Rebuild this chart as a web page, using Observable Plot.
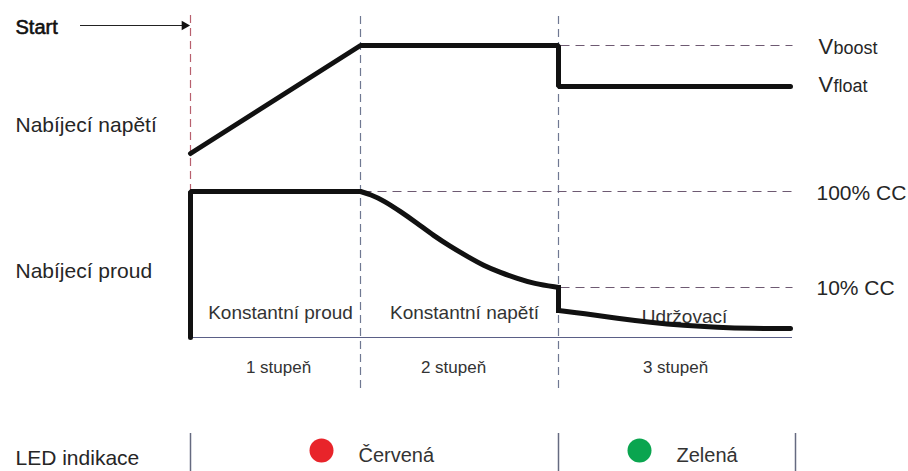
<!DOCTYPE html>
<html>
<head>
<meta charset="utf-8">
<script src="https://cdn.jsdelivr.net/npm/d3@7"></script>
<script src="https://cdn.jsdelivr.net/npm/@observablehq/plot@0.6"></script>
<style>
  html, body { margin: 0; padding: 0; background: #fff; }
  #chart svg { display: block; }
</style>
</head>
<body>
<div id="chart"></div>
<script>
// ---- Diagram data (diagram units: x = time axis, y = downward position) ----
const stageBounds = [190, 360, 558, 790];      // start, end stage 1, end stage 2, end
const dividerTop = 16, dividerBottom = 388, axisY = 337;

// charging voltage
const voltX = [190, 360, 558, 558, 790];
const voltY = [153, 45, 45, 86, 86];

// charging current: constant current part
const ccX = [190, 190, 360];
const ccY = [337, 191, 191];
// constant voltage part (falling current)
const cvX = [360, 370, 383, 400, 417, 433, 450, 467, 483, 500, 517, 533, 558];
const cvY = [191, 194, 200, 211, 223, 235, 246, 256, 265, 272, 278, 283, 287];
// drop at switch to float
const dropX = [558, 558];
const dropY = [287, 310];
// float part
const flX = [558, 583, 617, 650, 683, 717, 750, 790];
const flY = [310, 313, 318, 322, 325, 327, 328, 328];

// reference levels (dashed)
const levelNames = ["Vboost", "100% CC", "10% CC"];
const levelY = [45, 191, 287];
const levelX1 = [560, 362, 560];
const levelX2 = 792;

// texts
const leftLabels = ["Nabíjecí napětí", "Nabíjecí proud", "LED indikace"];
const leftY = [131, 277, 464];
const phaseLabels = ["Konstantní proud", "Konstantní napětí", "Udržovací"];
const phaseX = [280, 464, 684];
const phaseY = [318, 318, 322];
const stageLabels = ["1 stupeň", "2 stupeň", "3 stupeň"];
const stageX = [278, 453, 675];
const stageY = 372;
const rightLabels = ["100% CC", "10% CC"];
const rightY = [199, 294];

// LED indication
const ledNames = ["Červená", "Zelená"];
const ledColors = ["#e8242a", "#0aa54f"];
const ledX = [321, 639];
const ledY = 450;
const ledLines = [190, 558, 795];

const pts = (xs, ys) => xs.map((x, i) => ({x, y: ys[i]}));
const font = "Liberation Sans, Arial, Helvetica, sans-serif";
const ink = "#262626";

const chart = Plot.plot({
  width: 908,
  height: 471,
  marginTop: 0, marginRight: 0, marginBottom: 0, marginLeft: 0,
  x: {domain: [0, 908], range: [0, 908], axis: null},
  y: {domain: [0, 471], range: [0, 471], axis: null},
  style: {background: "#fff", fontFamily: font},
  marks: [
    // start line (reddish dashed)
    Plot.ruleX([stageBounds[0]], {y1: dividerTop - 1, y2: axisY, stroke: "#b8606e", strokeWidth: 1.2, strokeDasharray: "8,5"}),
    // stage dividers
    Plot.ruleX(stageBounds.slice(1, 3), {y1: dividerTop, y2: dividerBottom, stroke: "#6f7892", strokeWidth: 1.2, strokeDasharray: "8,5"}),
    // time axis
    Plot.ruleY([axisY], {x1: stageBounds[0], x2: 792, stroke: "#5a5f86", strokeWidth: 1.2}),
    // reference level dashes
    Plot.link(levelNames, {x1: (d, i) => levelX1[i], x2: levelX2, y1: (d, i) => levelY[i], y2: (d, i) => levelY[i], stroke: "#6e5a72", strokeWidth: 1.2, strokeDasharray: "9,6"}),
    // phase texts
    Plot.text(phaseLabels, {x: (d, i) => phaseX[i], y: (d, i) => phaseY[i], text: d => d, fontSize: 19, fill: "#333", lineAnchor: "bottom"}),
    Plot.text(stageLabels, {x: (d, i) => stageX[i], y: stageY, text: d => d, fontSize: 17, fill: "#333", lineAnchor: "bottom"}),
    // voltage curve
    Plot.line(pts(voltX, voltY), {x: "x", y: "y", stroke: "#111", strokeWidth: 5, strokeLinejoin: "miter"}),
    // current curve
    Plot.line(pts(ccX, ccY), {x: "x", y: "y", stroke: "#111", strokeWidth: 5, strokeLinejoin: "miter"}),
    Plot.line(pts(cvX, cvY), {x: "x", y: "y", stroke: "#111", strokeWidth: 5, curve: "basis"}),
    Plot.line(pts(dropX, dropY), {x: "x", y: "y", stroke: "#111", strokeWidth: 5, strokeLinecap: "square"}),
    Plot.line(pts(flX, flY), {x: "x", y: "y", stroke: "#111", strokeWidth: 5, curve: "basis"}),
    // start label + arrow
    Plot.text(["Start"], {x: 15, y: 33, text: d => d, fontSize: 20, fill: "#111", stroke: "#111", strokeWidth: 0.6, textAnchor: "start", lineAnchor: "bottom"}),
    Plot.ruleY([25], {x1: 80, x2: 184, stroke: "#222", strokeWidth: 1}),
    Plot.dot([0], {x: 184, y: 25, symbol: "triangle", rotate: 90, r: 3.6, fill: "#111", stroke: null}),
    // left labels
    Plot.text(leftLabels, {x: 15, y: (d, i) => leftY[i], text: d => d, fontSize: 21, fill: ink, textAnchor: "start", lineAnchor: "bottom"}),
    // right labels
    Plot.text(["V", "V"], {x: 818, y: (d, i) => [53, 91][i], text: d => d, fontSize: 22, fill: ink, textAnchor: "start", lineAnchor: "bottom"}),
    Plot.text(["boost", "float"], {x: 833, y: (d, i) => [53, 91][i], text: d => d, fontSize: 18, fill: ink, textAnchor: "start", lineAnchor: "bottom"}),
    Plot.text(rightLabels, {x: 816, y: (d, i) => rightY[i], text: d => d, fontSize: 21, fill: ink, textAnchor: "start", lineAnchor: "bottom"}),
    // LED indication
    Plot.ruleX(ledLines, {y1: 433, y2: 471, stroke: "#656a80", strokeWidth: 1.5}),
    Plot.dot(ledNames, {x: (d, i) => ledX[i], y: ledY, r: 12, fill: (d, i) => ledColors[i], stroke: null}),
    Plot.text(ledNames, {x: (d, i) => ledX[i] + 37, y: 461, text: d => d, fontSize: 20, fill: "#333", textAnchor: "start", lineAnchor: "bottom"})
  ]
});
document.getElementById("chart").appendChild(chart);
</script>
</body>
</html>
